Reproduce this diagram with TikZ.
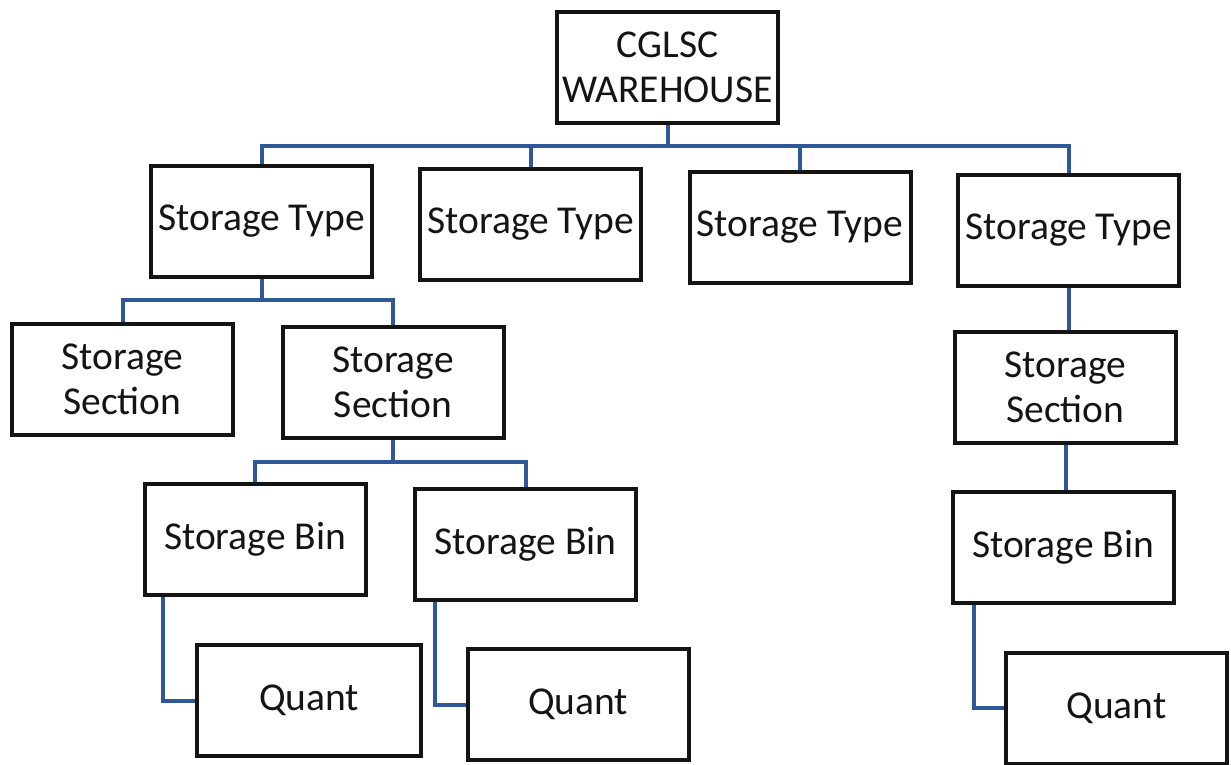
\documentclass[tikz,border=0pt]{standalone}
\usepackage{fontspec}
\setmainfont{Carlito}
\definecolor{linkblue}{RGB}{46,88,152}
\definecolor{boxline}{RGB}{20,20,20}
\tikzset{
  box/.style={draw=boxline, line width=4pt, fill=white, rectangle,
    minimum width=221pt, minimum height=111pt, inner sep=0pt,
    align=center, font=\fontsize{39.5}{45}\selectfont, text=boxline},
  link/.style={draw=linkblue, line width=4pt, line cap=butt, line join=miter}
}
\begin{document}
\begin{tikzpicture}[x=1pt,y=-1pt]
\useasboundingbox[fill=white] (0,0) rectangle (1231,764);
% buses
\coordinate (busA) at (0,146);
\coordinate (busB) at (0,300);
\coordinate (busC) at (0,462);
% nodes
\node[box] (W)  at (667.5,67.5) {CGLSC\\WAREHOUSE};
\node[box] (T1) at (261.5,221.5) {Storage Type};
\node[box] (T2) at (530.5,224) {Storage Type};
\node[box] (T3) at (800,227) {Storage Type};
\node[box] (T4) at (1068.5,230) {Storage Type};
\node[box] (S1) at (122.5,379.5) {Storage\\Section};
\node[box] (S2) at (393,382.5) {Storage\\Section};
\node[box] (S3) at (1065.5,387.5) {Storage\\Section};
\node[box] (B1) at (255,539.5) {Storage Bin};
\node[box] (B2) at (525.5,544) {Storage Bin};
\node[box] (B3) at (1063,547.5) {Storage Bin};
\node[box, minimum width=224pt] (Q1) at (309,700.5) {Quant};
\node[box] (Q2) at (578,704.5) {Quant};
\node[box] (Q3) at (1116.5,708) {Quant};
% connectors
\draw[link] (W.south) -- (W.south |- busA) -| (T1.north);
\draw[link] (W.south |- busA) -| (T2.north);
\draw[link] (W.south |- busA) -| (T3.north);
\draw[link] (W.south |- busA) -| (T4.north);
\draw[link] (T1.south) -- (T1.south |- busB) -| (S1.north);
\draw[link] (T1.south |- busB) -| (S2.north);
\draw[link] (S2.south) -- (S2.south |- busC) -| (B1.north);
\draw[link] (S2.south |- busC) -| (B2.north);
\draw[link] (T4.south) -- (T4.south |- S3.north);
\draw[link] (S3.south) -- (S3.south |- B3.north);
\draw[link] ([xshift=20pt]B1.south west) |- (Q1.west);
\draw[link] ([xshift=22pt]B2.south west) |- (Q2.west);
\draw[link] ([xshift=23pt]B3.south west) |- (Q3.west);
\end{tikzpicture}
\end{document}
